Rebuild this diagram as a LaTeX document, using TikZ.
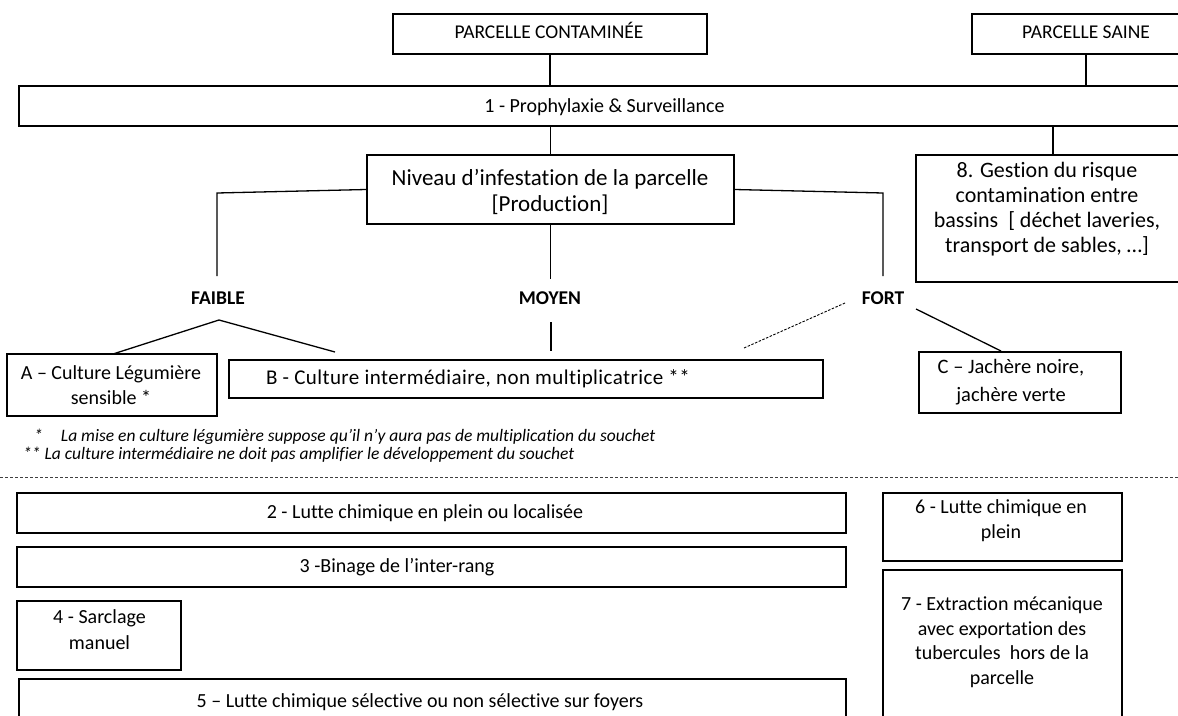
\documentclass[tikz,border=0pt]{standalone}
\usepackage{fontspec}
\setmainfont{Carlito}[Ligatures=CommonOff]
\newcommand\fsz[2]{\fontsize{#1}{#2}\selectfont}
\begin{document}
\begin{tikzpicture}[x=1pt,y=-1pt,
  box/.style={draw, line width=1.3pt, inner sep=0pt},
  txt/.style={inner sep=0pt, align=center, font=\fsz{20}{25}},
  lvl/.style={inner sep=0pt, font=\fsz{19.5}{22}\bfseries},
  note/.style={inner sep=0pt, anchor=west, font=\fsz{17.5}{20}\itshape},
  conn/.style={line width=1.3pt},
  sep/.style={line width=0.8pt, dash pattern=on 3pt off 2pt, black!75}]
\useasboundingbox (0,0) rectangle (1178,715);
\clip (0,0) rectangle (1178,715);
% ---------- boxes ----------
\node[box, minimum width=314pt, minimum height=40pt] (cont) at (550,34) {};
\node[box, minimum width=228pt, minimum height=40pt] (saine) at (1086,34) {};
\node[box, minimum width=1171pt, minimum height=40pt] (proph) at (604.5,106) {};
\node[box, minimum width=367pt, minimum height=69pt] (niv) at (550.5,189.5) {};
\node[box, minimum width=264pt, minimum height=127pt] (n8) at (1048,218.5) {};
\node[box, minimum width=210pt, minimum height=62pt] (bA) at (112,385) {};
\node[box, minimum width=594pt, minimum height=38pt] (bB) at (526,379) {};
\node[box, minimum width=202pt, minimum height=61pt] (bC) at (1020,382.5) {};
\node[box, minimum width=829pt, minimum height=40pt] (b2) at (431.5,513) {};
\node[box, minimum width=829pt, minimum height=40pt] (b3) at (431.5,567) {};
\node[box, minimum width=164pt, minimum height=69pt] (b4) at (99,635.5) {};
\node[box, minimum width=827pt, minimum height=46pt] (b5) at (432.5,702) {};
\node[box, minimum width=239pt, minimum height=68pt] (b6) at (1002.5,527) {};
\node[box, minimum width=239pt, minimum height=155pt] (b7) at (1002.5,647.5) {};
% ---------- texts ----------
\node[txt, anchor=base, font=\fsz{19.5}{22}] (contT) at (549,38) {PARCELLE CONTAMINÉE};
\node[txt, anchor=base, font=\fsz{19.5}{22}] (saineT) at (1086,38) {PARCELLE SAINE};
\node[txt, anchor=base] (prophT) at (604.5,112) {1 - Prophylaxie \& Surveillance};
\node[txt, font=\fsz{23}{26}] (nivT) at (550,192) {Niveau d’infestation de la parcelle\\{}[Production]};
\node[txt, font=\fsz{22}{25}] (n8T) at (1047,209.5) {8. Gestion du risque\\contamination entre\\bassins\ \ [ déchet laveries,\\transport de sables, …]};
\node[lvl] (faible) at (218,298) {FAIBLE};
\node[lvl] (moyen) at (550,298) {MOYEN};
\node[lvl] (fort) at (883,298) {FORT};
\node[txt] (bAT) at (111,385.5) {A – Culture Légumière\\sensible *};
\node[txt, font=\fsz{21}{25}\addfontfeature{LetterSpace=2}] (bBT) at (478,379) {B - Culture intermédiaire, non multiplicatrice **};
\node[txt, font=\fsz{20.5}{28}] (bCT) at (1011,382.5) {C – Jachère noire,\\jachère verte};
\node[note] (n1) at (34,437) {*\hspace{18pt}La mise en culture légumière suppose qu’il n’y aura pas de multiplication du souchet};
\node[note] (n2) at (23,455) {** La culture intermédiaire ne doit pas amplifier le développement du souchet};
\node[txt] (b2T) at (425,513) {2 - Lutte chimique en plein ou localisée};
\node[txt] (b3T) at (397,567) {3 -Binage de l’inter-rang};
\node[txt, font=\fsz{20}{26}] (b4T) at (99.5,630) {4 - Sarclage\\manuel};
\node[txt] (b5T) at (420,702) {5 – Lutte chimique sélective ou non sélective sur foyers};
\node[txt] (b6T) at (1001,520.5) {6 - Lutte chimique en\\plein};
\node[txt, font=\fsz{20}{24.5}] (b7T) at (1002,642) {7 - Extraction mécanique\\avec exportation des\\tubercules\ \ hors de la\\parcelle};
% ---------- connector points ----------
\coordinate (p8) at (1053,0);
\coordinate (lk) at (217,193);
\coordinate (lb) at (217,276);
\coordinate (rk) at (883,193);
\coordinate (rb) at (883,276);
\coordinate (mb) at (551,279);
\coordinate (fa) at (219,320);
\coordinate (fA) at (113,354);
\coordinate (fB) at (335,352);
\coordinate (mt) at (551,322);
\coordinate (mB) at (551,351);
\coordinate (fd1) at (845,303);
\coordinate (fd2) at (744,348);
\coordinate (fs1) at (916,309);
\coordinate (fs2) at (1001,351);
\coordinate (sepL) at (0,477);
\coordinate (sepR) at (1178,477);
% ---------- connectors ----------
\draw[conn] (cont.south) -- (cont.south |- proph.north);
\draw[conn] (saine.south) -- (saine.south |- proph.north);
\draw[conn] (proph.south -| niv.north) -- (niv.north);
\draw[conn] (proph.south -| p8) -- (n8.north -| p8);
\draw[conn] (niv.west) -- (lk) -- (lb);
\draw[conn] (niv.east) -- (rk) -- (rb);
\draw[conn] (niv.south) -- (niv.south |- mb);
\draw[conn] (fA) -- (fa) -- (fB);
\draw[conn] (mt) -- (mB);
\draw[conn, dash pattern=on 2.5pt off 1.5pt, line width=0.9pt] (fd1) -- (fd2);
\draw[conn] (fs1) -- (fs2);
\draw[sep] (sepL) -- (sepR);
\end{tikzpicture}
\end{document}
